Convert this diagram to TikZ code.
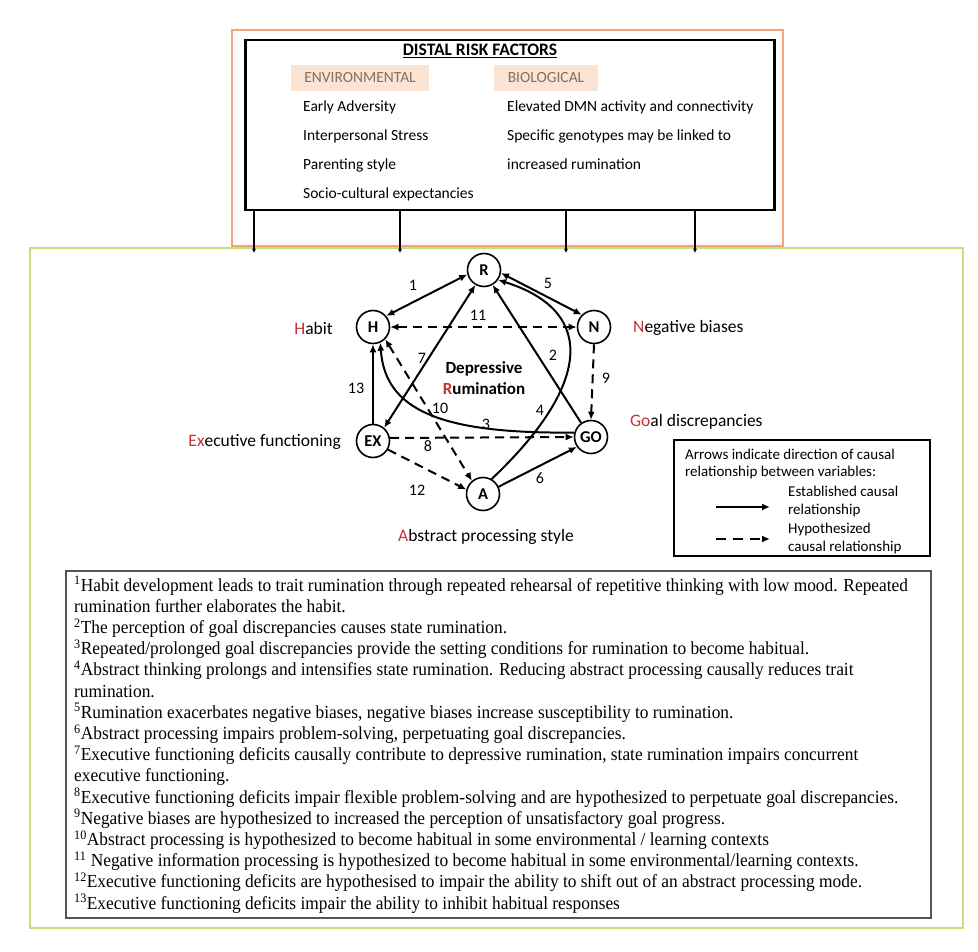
\documentclass[tikz,border=0pt]{standalone}
\usepackage{fontspec}
\setmainfont{Carlito}
\newfontfamily\notesfont[FakeStretch=0.944]{Liberation Serif}
\usetikzlibrary{arrows.meta}
\definecolor{orangeframe}{RGB}{244,162,122}
\definecolor{greenframe}{RGB}{196,224,120}
\definecolor{peach}{RGB}{252,228,212}
\definecolor{envtext}{RGB}{135,110,95}
\definecolor{labred}{RGB}{200,50,55}
\definecolor{notesgray}{RGB}{85,85,85}
\begin{document}
\begin{tikzpicture}[x=1pt,y=-1pt,
  var/.style={circle,draw,line width=1.6pt,minimum size=33pt,inner sep=0pt,font=\fontsize{16.5}{16.5}\selectfont\bfseries},
  lab/.style={font=\fontsize{17.5}{18}\selectfont,inner sep=0pt},
  num/.style={font=\fontsize{16}{16}\selectfont,inner sep=0pt},
  edgeline/.style={line width=2pt},
  est/.style={edgeline,-{Latex[length=8pt,width=7pt]}},
  estboth/.style={edgeline,{Latex[length=8pt,width=7pt]}-{Latex[length=8pt,width=7pt]}},
  hyp/.style={edgeline,dash pattern=on 9pt off 6pt,-{Latex[length=8pt,width=7pt]}},
  hypboth/.style={edgeline,dash pattern=on 9pt off 6pt,{Latex[length=8pt,width=7pt]}-{Latex[length=8pt,width=7pt]}},
  topfont/.style={font=\fontsize{15.5}{29}\selectfont,inner sep=0pt},
  legfont/.style={font=\fontsize{15}{18}\selectfont,inner sep=0pt},
]
\fill[white] (0,0) rectangle (978,952);
\useasboundingbox (0,0) rectangle (978,952);

% frames
\draw[greenframe,line width=2.5pt] (30,248) rectangle (963,928);
\draw[orangeframe,line width=2pt] (232,30) rectangle (783,246);

% distal risk factors box
\node[draw,line width=2.5pt,minimum width=529pt,minimum height=170pt,anchor=north west,inner sep=0pt] (distal) at (244,39) {};
\node[font=\fontsize{17.5}{17.5}\selectfont\bfseries,anchor=base,inner sep=0pt] (title) at (480,56) {\underline{DISTAL RISK FACTORS}};
\node[fill=peach,minimum width=138pt,minimum height=26pt,inner sep=0pt,text=envtext,font=\fontsize{15.5}{16}\selectfont] (env) at (360,78) {ENVIRONMENTAL};
\node[fill=peach,minimum width=104pt,minimum height=26pt,inner sep=0pt,text=envtext,font=\fontsize{15.5}{16}\selectfont] (bio) at (546,78) {BIOLOGICAL};
\node[topfont,anchor=base west] (envlist) at (303,112) {\vtop{\baselineskip=29pt\hbox{Early Adversity}\hbox{Interpersonal Stress}\hbox{Parenting style}\hbox{Socio-cultural expectancies}}};
\node[topfont,anchor=base west] (biolist) at (507,112) {\vtop{\baselineskip=29pt\hbox{Elevated DMN activity and connectivity}\hbox{Specific genotypes may be linked to}\hbox{increased rumination}}};

\coordinate (t1) at (254,253);
\coordinate (t2) at (400,253);
\coordinate (t3) at (566,253);
\coordinate (t4) at (695,253);
\foreach \t in {t1,t2,t3,t4}
  \draw[line width=2pt,-{Latex[length=4pt,width=4pt]}] (distal.south -| \t) -- (\t);

% variables
\node[var] (R) at (484,270) {R};
\node[var] (H) at (373,327) {H};
\node[var] (N) at (594,327) {N};
\node[var] (EX) at (373,441) {EX};
\node[var] (GO) at (591,437) {GO};
\node[var] (A) at (483,494) {A};

% labels
\node[lab,anchor=east] (habitlab) at (333,328) {\textcolor{labred}{H}abit};
\node[lab,anchor=east] (exlab) at (341,442) {\textcolor{labred}{Ex}ecutive functioning};
\node[lab,anchor=west] (neglab) at (633,328) {\textcolor{labred}{N}egative biases};
\node[lab,anchor=west] (goallab) at (630,422) {\textcolor{labred}{Go}al discrepancies};
\node[lab] (abslab) at (486,537) {\textcolor{labred}{A}bstract processing style};
\node[font=\fontsize{17}{21}\selectfont\bfseries,align=center,inner sep=0pt] (dr) at (484,378) {Depressive\\\textcolor{labred}{R}umination};

% connectors
\draw[estboth] (H.40) -- (R.195);
\draw[estboth] (R.350) -- (N.135);
\draw[hypboth] (H.east) -- (N.west);
\draw[estboth] (EX.50) -- (R.240);
\draw[est] (GO.125) -- (R.300);
\draw[est] (A.60) .. controls (588,388) and (600,312) .. (R.325);
\draw[est] (GO.165) .. controls (440,434) and (385,410) .. (H.295);
\draw[hyp] (EX.10) -- (GO.west);
\draw[est] (EX.north) -- (H.south);
\draw[hypboth] (H.315) -- (A.130);
\draw[hyp] (EX.330) -- (A.165);
\draw[est] (A.25) -- (GO.215);
\draw[hyp] (N.south) -- (GO.north);

% connector numbers
\node[num] (n1) at (413,285) {1};
\node[num] (n5) at (548,283) {5};
\node[num] (n11) at (478,315) {11};
\node[num] (n7) at (422,358) {7};
\node[num] (n2) at (553,355) {2};
\node[num] (n9) at (606,378) {9};
\node[num] (n13) at (356,388) {13};
\node[num] (n10) at (440,408) {10};
\node[num] (n4) at (540,410) {4};
\node[num] (n3) at (486,424) {3};
\node[num] (n8) at (428,446) {8};
\node[num] (n12) at (417,490) {12};
\node[num] (n6) at (540,478) {6};

% legend
\node[draw,line width=2pt,minimum width=256pt,minimum height=116pt,anchor=north west,inner sep=0pt] (legend) at (673,439) {};
\node[legfont,anchor=base west] (legtext) at (685,459) {\vtop{\baselineskip=17pt\hbox{Arrows indicate direction of causal}\hbox{relationship between variables:}}};
\node[legfont,anchor=base west] (legest) at (788,496) {\vtop{\baselineskip=18pt\hbox{Established causal}\hbox{relationship}}};
\node[legfont,anchor=base west] (leghyp) at (788,533) {\vtop{\baselineskip=18pt\hbox{Hypothesized}\hbox{causal relationship}}};
\coordinate (ls1) at (716,507);
\coordinate (ls2) at (770,507);
\coordinate (lh1) at (716,539);
\coordinate (lh2) at (770,539);
\draw[est] (ls1) -- (ls2);
\draw[edgeline,dash pattern=on 10pt off 7pt,-{Latex[length=8pt,width=7pt]}] (lh1) -- (lh2);

% notes
\node[draw=notesgray,line width=2.2pt,minimum width=865pt,minimum height=347pt,anchor=north west,inner sep=0pt] (notesbox) at (65,570) {};
\node[anchor=base west,inner sep=0pt,font=\notesfont\fontsize{18.4}{21.2}\selectfont] (notes) at (74,591) {\vtop{\baselineskip=21.2pt
\hbox{\textsuperscript{1}Habit development leads to trait rumination through repeated rehearsal of repetitive thinking with low mood. Repeated}
\hbox{rumination further elaborates the habit.}
\hbox{\textsuperscript{2}The perception of goal discrepancies causes state rumination.}
\hbox{\textsuperscript{3}Repeated/prolonged goal discrepancies provide the setting conditions for rumination to become habitual.}
\hbox{\textsuperscript{4}Abstract thinking prolongs and intensifies state rumination. Reducing abstract processing causally reduces trait}
\hbox{rumination.}
\hbox{\textsuperscript{5}Rumination exacerbates negative biases, negative biases increase susceptibility to rumination.}
\hbox{\textsuperscript{6}Abstract processing impairs problem-solving, perpetuating goal discrepancies.}
\hbox{\textsuperscript{7}Executive functioning deficits causally contribute to depressive rumination, state rumination impairs concurrent}
\hbox{executive functioning.}
\hbox{\textsuperscript{8}Executive functioning deficits impair flexible problem-solving and are hypothesized to perpetuate goal discrepancies.}
\hbox{\textsuperscript{9}Negative biases are hypothesized to increased the perception of unsatisfactory goal progress.}
\hbox{\textsuperscript{10}Abstract processing is hypothesized to become habitual in some environmental / learning contexts}
\hbox{\textsuperscript{11} Negative information processing is hypothesized to become habitual in some environmental/learning contexts.}
\hbox{\textsuperscript{12}Executive functioning deficits are hypothesised to impair the ability to shift out of an abstract processing mode.}
\hbox{\textsuperscript{13}Executive functioning deficits impair the ability to inhibit habitual responses}}};
\end{tikzpicture}
\end{document}
